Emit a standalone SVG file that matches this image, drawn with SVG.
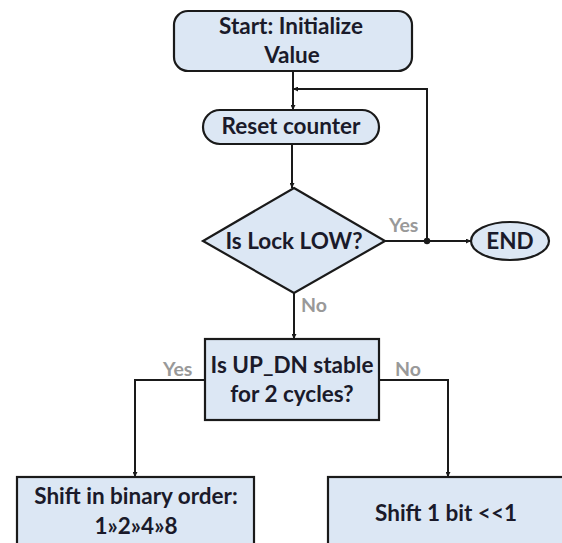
<svg xmlns="http://www.w3.org/2000/svg" width="562" height="543" viewBox="0 0 562 543">
<defs>
<style>
.n{fill:#dce7f4;stroke:#1a1a1a;stroke-width:2.2}
.t{font-family:Lato,"Open Sans",sans-serif;font-weight:bold;font-size:22.5px;fill:#1a1a2a;text-anchor:middle}
.l{font-family:Lato,"Open Sans",sans-serif;font-weight:bold;font-size:19.5px;fill:#999999}
.c{fill:none;stroke:#1a1a1a;stroke-width:2}
</style>
<marker id="a" viewBox="0 0 10 10" refX="10" refY="5" markerWidth="5" markerHeight="5" orient="auto" markerUnits="userSpaceOnUse"><path d="M0,0L10,5L0,10z" fill="#1a1a1a"/></marker>
</defs>
<rect width="562" height="543" fill="#ffffff"/>
<g id="connectors">
<path class="c" d="M293,71V110" marker-end="url(#a)"/>
<path class="c" d="M427,241V89H293" marker-end="url(#a)"/>
<path class="c" d="M292,144V188" marker-end="url(#a)"/>
<path class="c" d="M385,241H471" marker-end="url(#a)"/>
<circle cx="427" cy="241" r="3.2" fill="#1a1a1a"/>
<path class="c" d="M294,293V339" marker-end="url(#a)"/>
<path class="c" d="M205,380H135V477" marker-end="url(#a)"/>
<path class="c" d="M379,380H448V477" marker-end="url(#a)"/>
<text class="l" x="389" y="232">Yes</text>
<text class="l" x="301" y="312">No</text>
<text class="l" x="163" y="376">Yes</text>
<text class="l" x="395" y="376">No</text>
</g>
<g id="start">
<rect class="n" x="174" y="11" width="238" height="60" rx="14"/>
<text class="t" x="291" y="34">Start: Initialize</text>
<text class="t" x="292" y="63">Value</text>
</g>
<g id="reset">
<rect class="n" x="203" y="110" width="176" height="34" rx="17"/>
<text class="t" x="291" y="134">Reset counter</text>
</g>
<g id="lock">
<path class="n" d="M294,188L385,241L294,293L203,241Z"/>
<text class="t" x="294" y="249">Is Lock LOW?</text>
</g>
<g id="end">
<ellipse class="n" cx="510" cy="241" rx="39" ry="19"/>
<text class="t" x="510" y="249">END</text>
</g>
<g id="updn">
<rect class="n" x="205" y="339" width="174" height="81"/>
<text class="t" x="292" y="373">Is UP_DN stable</text>
<text class="t" x="292" y="402">for 2 cycles?</text>
</g>
<g id="binary">
<rect class="n" x="17" y="477" width="237" height="80"/>
<text class="t" x="136" y="504">Shift in binary order:</text>
<text class="t" x="136" y="534">1»2»4»8</text>
</g>
<g id="shift">
<rect class="n" x="328" y="477" width="236" height="80"/>
<text class="t" x="446" y="521">Shift 1 bit &lt;&lt;1</text>
</g>
</svg>
